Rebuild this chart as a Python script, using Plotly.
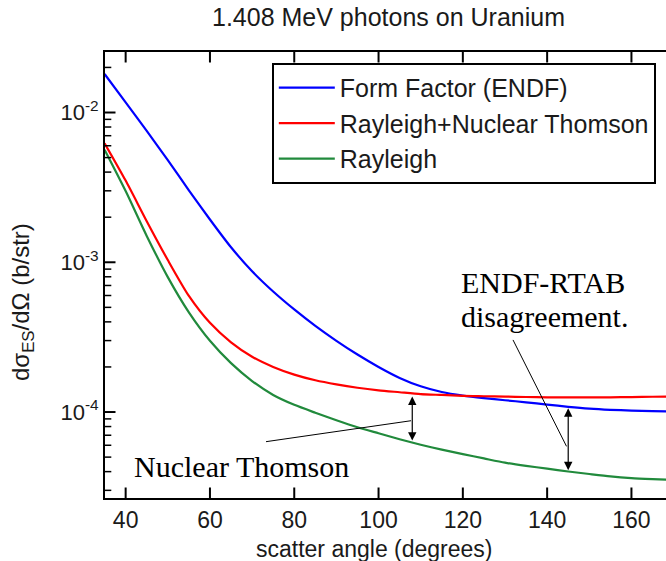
import math
import plotly.graph_objects as go

# ---- data ----
angle_deg = [35, 40, 45, 50, 55, 60, 65, 70, 75, 80, 85, 90, 95, 100, 105, 110,
             115, 120, 125, 130, 135, 140, 145, 150, 155, 160, 165, 170]

form_factor_endf = [1.807e-2, 1.167e-2, 7.53e-3, 4.81e-3, 3.02e-3, 1.93e-3, 1.259e-3,
                    8.71e-4, 6.38e-4, 4.84e-4, 3.76e-4, 2.99e-4, 2.42e-4, 2.00e-4,
                    1.69e-4, 1.486e-4, 1.361e-4, 1.288e-4, 1.239e-4, 1.199e-4, 1.161e-4,
                    1.122e-4, 1.084e-4, 1.054e-4, 1.035e-4, 1.023e-4, 1.014e-4, 1.007e-4]

rayleigh_nuclear_thomson = [6.24e-3, 3.51e-3, 1.88e-3, 1.035e-3, 5.96e-4, 3.94e-4, 2.92e-4,
                            2.34e-4, 2.00e-4, 1.778e-4, 1.63e-4, 1.53e-4, 1.453e-4, 1.396e-4,
                            1.356e-4, 1.318e-4, 1.30e-4, 1.282e-4, 1.275e-4, 1.268e-4, 1.26e-4,
                            1.253e-4, 1.253e-4, 1.253e-4, 1.253e-4, 1.259e-4, 1.265e-4, 1.271e-4]

rayleigh = [5.64e-3, 2.99e-3, 1.50e-3, 7.96e-4, 4.63e-4, 2.99e-4, 2.12e-4,
            1.61e-4, 1.30e-4, 1.117e-4, 9.89e-5, 8.81e-5, 7.91e-5, 7.21e-5,
            6.58e-5, 6.05e-5, 5.61e-5, 5.24e-5, 4.90e-5, 4.59e-5, 4.37e-5,
            4.19e-5, 4.01e-5, 3.855e-5, 3.715e-5, 3.62e-5, 3.565e-5, 3.52e-5]

series_names = ["Form Factor (ENDF)", "Rayleigh+Nuclear Thomson", "Rayleigh"]
series_colors = ["#0000ff", "#ff0000", "#218a3c"]

x_ticks = [40, 60, 80, 100, 120, 140, 160]
y_ticks = [1e-4, 1e-3, 1e-2]
y_tick_labels = ["10<sup>-4</sup>", "10<sup>-3</sup>", "10<sup>-2</sup>"]

# annotation geometry (angle, value)
arrow_nt = [(108, 1.27e-4), (108, 6.3e-5)]
arrow_disagree = [(145, 1.06e-4), (145, 4.0e-5)]
pointer_nt = [(73.3, 6.34e-5), (107.7, 8.75e-5)]
pointer_disagree = [(131.9, 3.03e-4), (144.6, 5.9e-5)]

FONT = "Liberation Sans, Arial, sans-serif"
SERIF = "Liberation Serif, Times New Roman, serif"
TXT = "#1a1a1a"
X_RANGE = [35.1, 168.2]
Y_RANGE = [-4.574, -1.596]

fig = go.Figure()
for name, ys, col in zip(series_names,
                         [form_factor_endf, rayleigh_nuclear_thomson, rayleigh],
                         series_colors):
    fig.add_trace(go.Scatter(x=angle_deg, y=ys, mode="lines", name=name,
                             line=dict(color=col, width=2.2, shape="spline",
                                       smoothing=0.7)))

for pts in (pointer_nt, pointer_disagree):
    fig.add_trace(go.Scatter(x=[p[0] for p in pts], y=[p[1] for p in pts],
                             mode="lines", showlegend=False, hoverinfo="skip",
                             line=dict(color="black", width=1)))

# inward tick marks: line markers centred on the axis lines, clipped to the plot area
y_bottom, y_top = 10 ** Y_RANGE[0], 10 ** Y_RANGE[1]
minor_vals = [m * d for d in (1e-5, 1e-4, 1e-3, 1e-2) for m in range(2, 10)
              if Y_RANGE[0] < math.log10(m * d) < Y_RANGE[1]]


def tick_trace(xs, ys, symbol, size, width):
    return go.Scatter(x=xs, y=ys, mode="markers", showlegend=False,
                      hoverinfo="skip", cliponaxis=True,
                      marker=dict(symbol=symbol, size=size, color="black",
                                  line=dict(color="black", width=width)))


fig.add_trace(tick_trace(x_ticks, [y_bottom] * len(x_ticks), "line-ns", 15, 2))
fig.add_trace(tick_trace(x_ticks, [y_top] * len(x_ticks), "line-ns", 15, 2))
fig.add_trace(tick_trace([X_RANGE[0]] * len(y_ticks), y_ticks, "line-ew", 15, 2))
fig.add_trace(tick_trace([X_RANGE[0]] * len(minor_vals), minor_vals, "line-ew", 9, 1.5))

for (xa, ya), (xb, yb) in (arrow_nt, arrow_disagree):
    fig.add_annotation(x=xa, y=math.log10(ya), ax=xb, ay=math.log10(yb),
                       xref="x", yref="y", axref="x", ayref="y",
                       text="", showarrow=True, arrowhead=2, startarrowhead=2,
                       arrowside="end+start", arrowwidth=1.2, arrowsize=1.4,
                       startarrowsize=1.4, arrowcolor="black")

# text annotations
fig.add_annotation(x=139, y=-3.137, xref="x", yref="y", text="ENDF-RTAB",
                   showarrow=False, font=dict(family=SERIF, size=30, color="black"))
fig.add_annotation(x=139.3, y=-3.364, xref="x", yref="y", text="disagreement.",
                   showarrow=False, font=dict(family=SERIF, size=30, color="black"))
fig.add_annotation(x=67.6, y=-4.363, xref="x", yref="y", text="Nuclear Thomson",
                   showarrow=False, font=dict(family=SERIF, size=30, color="black"))

L, T, B = 105, 52, 63
W, H = 666, 561
pw, ph = W - L, H - T - B

fig.add_annotation(x=(388 - L) / pw, y=(H - B - 17) / ph, xref="paper", yref="paper",
                   xanchor="center", yanchor="middle",
                   text="1.408 MeV photons on Uranium", showarrow=False,
                   font=dict(family=FONT, size=25, color=TXT))
fig.add_annotation(x=(374 - L) / pw, y=(H - B - 549) / ph, xref="paper", yref="paper",
                   xanchor="center", yanchor="middle",
                   text="scatter angle (degrees)", showarrow=False,
                   font=dict(family=FONT, size=23, color=TXT))
fig.add_annotation(x=(22 - L) / pw, y=(H - B - 302) / ph, xref="paper", yref="paper",
                   xanchor="center", yanchor="middle",
                   text="dσ<sub>ES</sub>/dΩ (b/str)", showarrow=False, textangle=-90,
                   font=dict(family=FONT, size=24, color=TXT))

fig.update_layout(
    width=W, height=H,
    margin=dict(l=L, r=0, t=T, b=B, pad=0),
    paper_bgcolor="white", plot_bgcolor="white",
    font=dict(family=FONT, size=23, color=TXT),
    showlegend=True,
    legend=dict(x=(272 - L) / pw, y=(H - B - 63) / ph, xanchor="left", yanchor="top",
                bgcolor="white", bordercolor="black", borderwidth=1.8,
                font=dict(family=FONT, size=25, color=TXT),
                itemwidth=56, tracegroupgap=0),
    xaxis=dict(range=X_RANGE, tickmode="array", tickvals=x_ticks, ticks="",
               showline=True, linecolor="#000000", linewidth=2, mirror=True,
               showgrid=False, zeroline=False,
               tickfont=dict(family=FONT, size=23, color=TXT)),
    yaxis=dict(type="log", range=Y_RANGE, tickmode="array",
               tickvals=y_ticks, ticktext=y_tick_labels, ticks="",
               showline=True, linecolor="#000000", linewidth=2, mirror=False,
               showgrid=False, zeroline=False,
               tickfont=dict(family=FONT, size=22, color=TXT)),
)

fig.write_html("out.html")
